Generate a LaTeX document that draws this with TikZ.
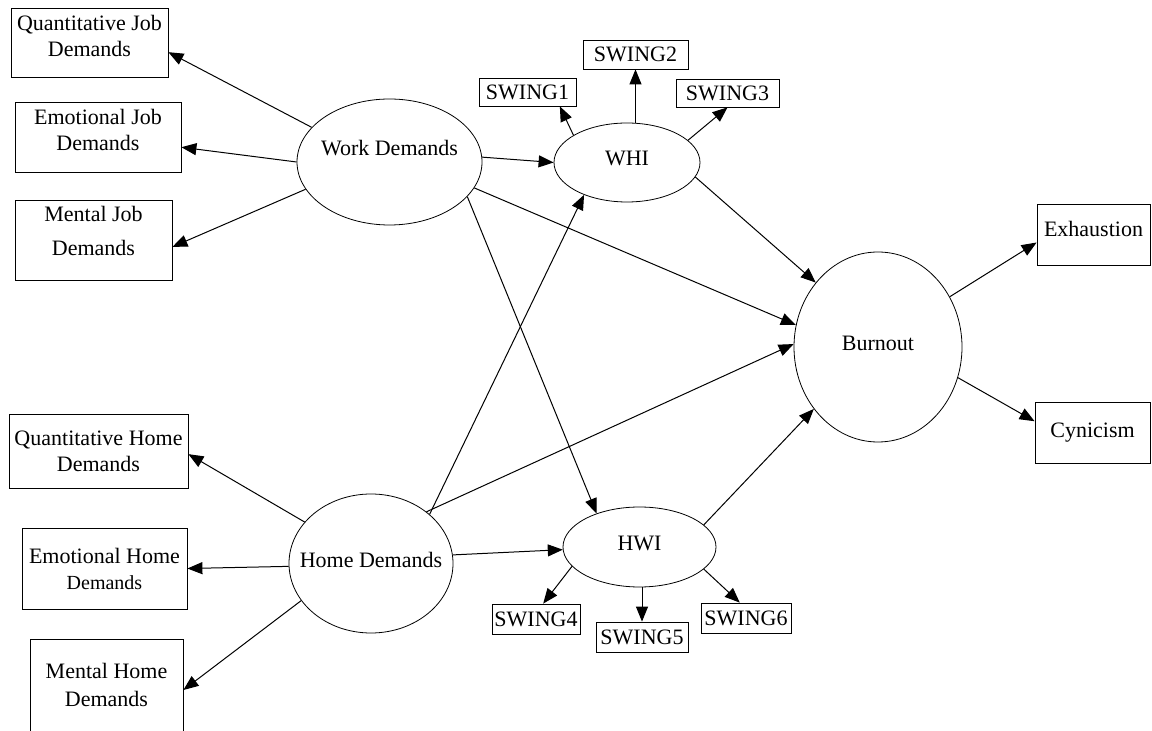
\documentclass[tikz,border=0pt]{standalone}
\usepackage{fontspec}
\setmainfont{Liberation Serif}
\usetikzlibrary{shapes.geometric,arrows.meta}

\begin{document}
\begin{tikzpicture}[x=0.5pt,y=-0.5pt,
    box/.style={draw,rectangle,align=center,inner sep=1pt,font=\fontsize{11}{13}\selectfont},
    lat/.style={draw,ellipse,inner ysep=0pt,inner xsep=-8pt,text depth=4pt,font=\fontsize{11}{13}\selectfont},
    arr/.style={-{Triangle[length=7.5pt,width=6pt]},line width=0.5pt}]
                \useasboundingbox (0,0) rectangle (1152,731);
                \node[box,minimum width=78.5pt,minimum height=34.5pt,text depth=7pt] (qjd) at (89.5,42.5) {Quantitative Job\\Demands};
                \node[box,minimum width=83pt,minimum height=35pt,text depth=7pt] (ejd) at (98,137) {Emotional Job\\Demands};
                \node[box,minimum width=78.5pt,minimum height=40pt,text depth=9pt] (mjd) at (93.5,240) {Mental Job\\[4pt]Demands};
                \node[box,minimum width=89.5pt,minimum height=37pt] (qhd) at (98.5,451) {Quantitative Home\\Demands};
                \node[box,minimum width=82.5pt,minimum height=40.5pt] (ehd) at (104.5,568.5) {Emotional Home\\{\fontsize{10}{12}\selectfont Demands}};
                \node[box,minimum width=76.5pt,minimum height=51pt,text depth=5pt] (mhd) at (106.5,690) {Mental Home\\[1pt]Demands};
                \node[lat,minimum width=92.5pt,minimum height=63pt,text depth=14pt] (wd) at (389.5,162) {Work Demands};
                \node[lat,minimum width=82pt,minimum height=69.5pt,text depth=3.5pt] (hd) at (371,563.5) {Home Demands};
                \node[lat,minimum width=73pt,minimum height=39.5pt] (whi) at (627,162.5) {WHI};
                \node[lat,minimum width=76.5pt,minimum height=40pt] (hwi) at (639.5,547) {HWI};
                \node[lat,minimum width=84pt,minimum height=95pt] (bo) at (878,347) {Burnout};
                \node[box,minimum width=48.5pt,minimum height=14pt] (s1) at (527.5,92) {SWING1};
                \node[box,minimum width=52.5pt,minimum height=14.5pt] (s2) at (635.5,54.5) {SWING2};
                \node[box,minimum width=51.5pt,minimum height=14pt] (s3) at (727.5,93) {SWING3};
                \node[box,minimum width=44pt,minimum height=15pt] (s4) at (536,619) {SWING4};
                \node[box,minimum width=46pt,minimum height=15pt] (s5) at (642,637) {SWING5};
                \node[box,minimum width=45pt,minimum height=15pt] (s6) at (746,618) {SWING6};
                \node[box,minimum width=56.5pt,minimum height=30.5pt,text depth=6pt] (exh) at (1093.5,234.5) {Exhaustion};
                \node[box,minimum width=57.5pt,minimum height=30.5pt] (cyn) at (1092.5,432.5) {Cynicism};
                \draw[arr] (wd.156) -- (qjd.-7);
                \draw[arr] (wd.180) -- (ejd.-7.5);
                \draw[arr] (wd.198.5) -- (mjd.-5.5);
                \draw[arr] (wd.3) -- (whi.180);
                \draw[arr] (wd.-17) -- (bo.165);
                \draw[arr] (wd.-24) -- (hwi.142);
                \draw[arr] (whi.153) -- (s1.-24.7);
                \draw[arr] (s2.south |- whi.north) -- (s2.south);
                \draw[arr] (whi.20.8) -- (s3.south);
                \draw[arr] (whi.-12.5) -- (bo.134);
                \draw[arr] (hd.40) -- (whi.217.5);
                \draw[arr] (hd.43) -- (bo.178);
                \draw[arr] (hd.6.6) -- (hwi.182);
                \draw[arr] (hd.148.5) -- (qhd.-2.5);
                \draw[arr] (hd.182.4) -- (ehd.east);
                \draw[arr] (hd.208.5) -- (mhd.east);
                \draw[arr] (hwi.19.4) -- (bo.224);
                \draw[arr] (hwi.196.8) -- (s4.65);
                \draw[arr] (s5.north |- hwi.south) -- (s5.north);
                \draw[arr] (hwi.-19.4) -- (s6.112);
                \draw[arr] (bo.35.3) -- (exh.188.6);
                \draw[arr] (bo.-21) -- (cyn.169.7);
            \end{tikzpicture}
\end{document}
